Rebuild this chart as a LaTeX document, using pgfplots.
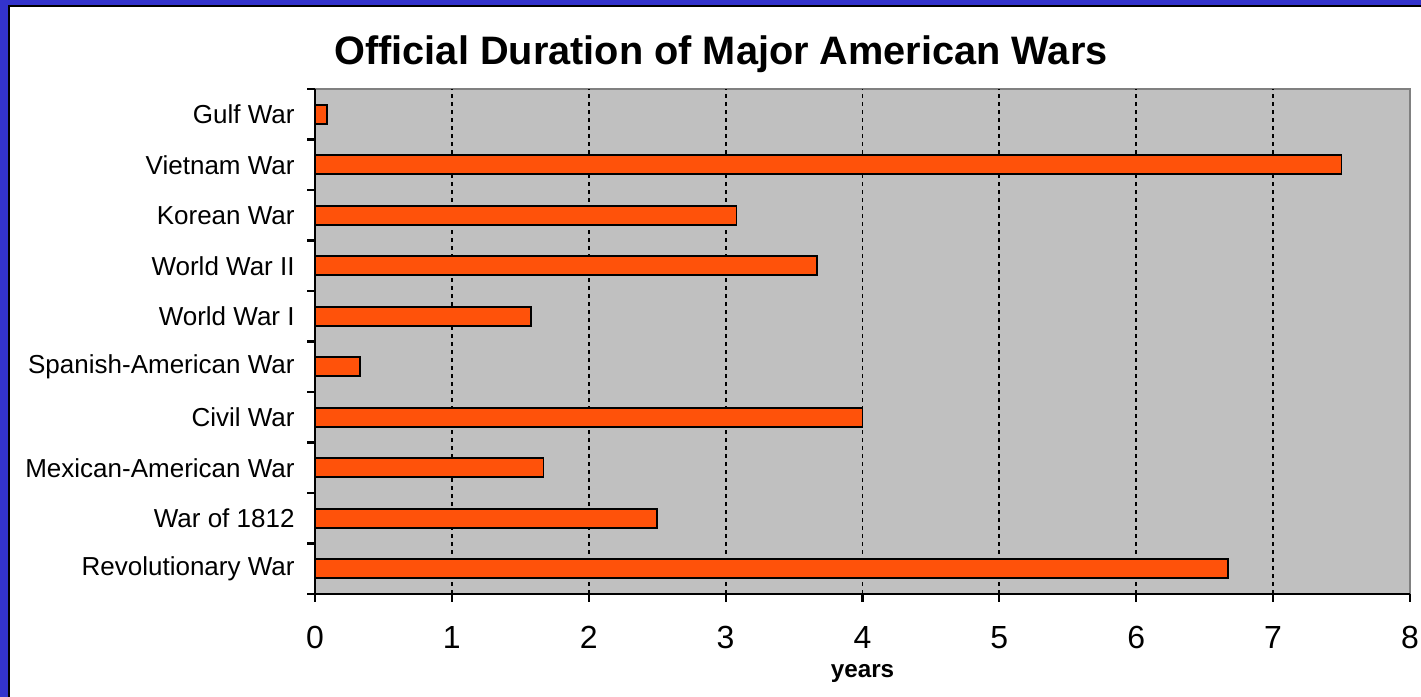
\documentclass[border=0pt]{standalone}
\usepackage{fontspec}
\setmainfont{Liberation Sans}
\usepackage{pgfplots}
\pgfplotsset{compat=1.18}
\definecolor{frameblue}{RGB}{51,51,204}
\definecolor{plotgray}{RGB}{192,192,192}
\definecolor{barorange}{RGB}{255,82,10}
\begin{document}
\begin{tikzpicture}
\useasboundingbox (0,0) rectangle (14.21cm,6.97cm);
\fill[frameblue] (0,0) rectangle (14.21cm,6.97cm);
\fill[black] (0.08cm,0) rectangle (14.21cm,6.915cm);
\fill[white] (0.095cm,0) rectangle (14.21cm,6.90cm);
\begin{axis}[
  at={(3.15cm,1.03cm)}, anchor=south west,
  scale only axis, width=10.95cm, height=5.05cm,
  xbar, bar width=1.9mm,
  xmin=0, xmax=8, ymin=-0.5, ymax=9.5,
  axis x line*=bottom, axis y line*=left,
  axis line style={black, line width=0.6pt},
  axis background/.style={fill=plotgray, draw=gray, line width=0.4pt},
  xtick={0,...,8}, ytick={0,...,9},
  yticklabels={Revolutionary War, War of 1812, Mexican-American War, Civil War, Spanish-American War, World War I, World War II, Korean War, Vietnam War, Gulf War},
  minor ytick={-0.5,0.5,...,9.5},
  tick align=outside, major tick length=0.8mm, minor tick length=0.8mm,
  major y tick style={draw=none},
  tick style={black, line width=0.6pt},
  major grid style={black, dash pattern=on 0.4mm off 0.4mm, line width=0.55pt},
  extra x ticks={1,...,7}, extra x tick labels={}, extra x tick style={grid=major},
  yticklabel style={font=\fontsize{7.4}{8}\selectfont},
  xticklabel style={font=\fontsize{9.1}{10}\selectfont, yshift=-1.2mm},
  /pgf/number format/assume math mode=true,
  xlabel={years},
  xlabel style={font=\bfseries\fontsize{6.9}{8}\selectfont, at={(axis description cs:0.5,0)}, anchor=base, yshift=-8.4mm},
]
\addplot[fill=barorange, draw=black, line width=0.5pt] coordinates {(6.67,0) (2.5,1) (1.67,2) (4.0,3) (0.33,4) (1.58,5) (3.67,6) (3.08,7) (7.5,8) (0.09,9)};
\end{axis}
\node[anchor=base, font=\bfseries\fontsize{11.3}{13}\selectfont] at (7.21cm,6.32cm) {Official Duration of Major American Wars};
\end{tikzpicture}
\end{document}
